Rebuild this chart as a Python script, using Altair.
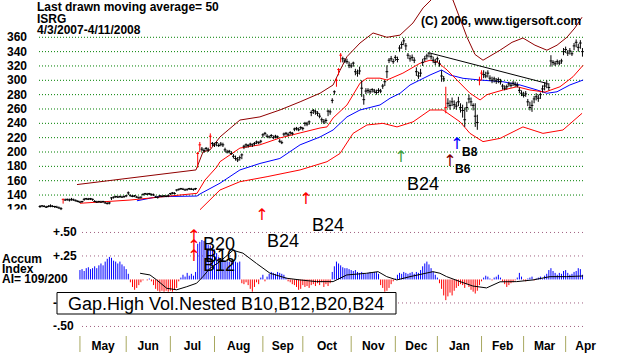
import altair as alt
import pandas as pd

# ---------------- data ----------------
# daily bars, trading-day index 0 = 4/3/2007 ... 258 = 4/11/2008
hi = [126,126,126,125,126,127,126,125,125,124,123,
      135,135,135,135,136,135,134,133,132,132,
      136,136,136,136,135,133,132,132,132,132,
      131,130,130,137,138,139,139,139,139,139,
      140,145,141,140,140,139,138,138,142,143,
      143,143,142,142,139,138,140,140,140,140,
      141,143,144,144,148,149,150,150,149,149,
      150,150,149,150,200,214,207,205,207,206,
      226,214,213,214,212,214,213,206,203,203,
      201,197,195,193,195,198,210,212,211,213,
      212,214,216,215,217,226,228,225,223,225,
      223,224,223,218,216,227,228,227,229,228,
      234,235,234,236,235,242,242,244,258,260,
      259,257,254,248,246,247,259,259,275,286,
      303,317,338,333,331,330,326,324,326,316,
      315,319,300,280,289,289,288,289,288,287,
      289,288,295,300,321,331,334,330,335,333,
      349,354,359,352,338,335,336,332,318,312,
      316,330,334,337,339,337,333,330,333,328,
      314,306,291,275,272,276,272,270,277,268,
      266,262,270,280,276,268,268,252,305,314,
      314,312,314,307,305,305,303,304,302,295,
      293,294,298,297,299,298,297,290,286,284,
      285,274,270,272,278,282,280,283,293,297,
      300,296,335,328,327,329,328,330,345,347,
      342,345,341,352,357,351,356,345]
lo = [122,123,123,122,123,123,123,122,122,121,119,
      128,132,132,131,132,132,131,130,129,129,
      132,133,133,133,132,130,129,129,129,129,
      128,127,127,133,135,136,136,136,136,136,
      137,140,138,137,137,136,135,135,139,140,
      140,140,139,139,136,135,137,137,137,137,
      137,140,141,141,145,146,147,147,146,146,
      147,147,146,147,178,200,201,199,202,200,
      205,208,207,208,207,208,207,200,198,198,
      196,191,188,186,188,190,204,206,206,208,
      207,209,211,211,212,220,223,220,219,220,
      218,219,219,213,211,222,223,222,224,223,
      229,230,229,231,230,236,236,238,250,253,
      252,250,247,241,239,240,250,252,268,280,
      291,307,325,325,324,323,317,317,319,307,
      305,308,277,266,281,282,281,283,282,280,
      282,282,288,292,303,324,326,323,327,325,
      340,344,349,342,330,326,327,324,306,302,
      305,320,326,329,332,329,324,321,325,319,
      298,298,254,262,259,264,260,259,264,255,
      248,235,256,268,264,258,235,231,293,300,
      303,303,304,299,296,297,295,296,294,287,
      286,287,291,290,292,291,290,282,278,276,
      277,264,258,256,268,272,270,274,283,286,
      289,286,319,321,320,322,321,323,335,338,
      334,336,334,342,346,340,344,333]
cl = [124,125,124,123,124,125,124,124,123,122,121,
      134,133,134,133,134,133,132,131,130,131,
      134,135,134,135,134,131,130,131,130,131,
      129,128,129,136,137,138,137,138,137,138,
      139,143,139,138,139,137,136,137,141,142,
      141,142,141,140,137,137,139,138,139,138,
      139,142,143,142,147,148,149,148,147,148,
      149,148,148,149,198,210,204,202,205,203,
      222,212,210,213,209,211,210,203,200,201,
      198,194,191,189,192,196,208,210,209,211,
      210,212,214,213,215,224,226,222,221,223,
      220,222,221,215,213,225,226,224,227,226,
      232,233,231,234,233,240,239,242,255,258,
      256,254,250,245,242,244,257,256,272,284,
      300,315,335,330,327,326,321,320,324,312,
      310,313,289,273,285,286,284,287,285,283,
      286,285,292,298,312,328,330,326,332,329,
      345,350,355,348,335,330,332,328,312,306,
      310,325,330,334,338,333,328,325,330,323,
      306,302,262,268,265,270,266,264,270,262,
      258,245,262,274,270,265,250,241,300,310,
      308,306,310,303,300,302,299,301,298,292,
      289,291,295,293,296,294,293,286,282,279,
      281,270,262,265,274,277,275,280,288,292,
      295,290,327,325,323,326,324,327,340,343,
      338,341,337,348,353,346,352,340]
gap_days = [11, 75, 76, 81, 141, 142, 143, 193, 209, 210]

# accumulation index, daily from index 19
ai_start = 19
ai = [0.10,0.11,0.09,0.12,0.13,0.11,0.12,0.14,0.12,0.15,
      0.17,0.15,0.19,0.22,0.24,0.23,0.20,0.19,0.17,
      0.19,0.16,0.14,0.11,0.06,
      -0.03,-0.08,-0.11,-0.09,-0.06,-0.03,-0.01,
      0.00,-0.01,0.01,-0.02,
      -0.06,-0.10,-0.12,-0.13,-0.12,-0.13,-0.12,-0.13,-0.12,-0.13,-0.11,-0.09,
      -0.02,0.02,0.05,0.03,0.07,0.04,0.06,0.04,0.08,
      0.38,0.40,0.42,0.41,0.39,0.37,0.36,0.34,0.32,0.28,0.24,0.22,0.21,0.20,0.19,0.19,0.20,0.19,0.19,0.18,0.19,
      -0.04,-0.05,-0.03,-0.06,-0.10,-0.13,-0.08,-0.03,-0.05,0.02,0.05,-0.02,0.03,0.06,
      0.08,0.07,0.06,0.08,0.07,0.06,0.05,0.02,
      -0.02,-0.03,-0.05,-0.06,-0.08,-0.11,-0.10,-0.06,-0.08,-0.07,-0.09,-0.06,-0.05,-0.07,-0.04,
      -0.06,-0.03,-0.08,-0.05,-0.07,-0.04,
      0.08,0.14,0.19,0.17,0.15,0.13,0.12,0.12,0.11,0.10,0.09,
      0.10,0.08,0.07,0.08,0.07,0.06,0.07,0.08,0.07,0.08,0.08,0.06,
      -0.06,-0.09,-0.13,-0.12,-0.09,-0.05,-0.02,0.01,
      0.05,0.07,0.06,0.08,0.07,0.06,0.07,0.08,0.06,0.08,0.07,
      0.10,0.14,0.17,0.19,0.16,0.12,
      0.08,0.05,0.02,
      -0.04,-0.10,-0.17,-0.22,-0.18,-0.14,-0.17,-0.12,-0.09,-0.07,
      -0.05,-0.06,-0.09,-0.05,-0.08,-0.11,-0.13,-0.15,
      -0.12,-0.06,-0.02,
      0.02,0.04,0.03,0.01,-0.01,0.02,
      0.03,0.05,0.02,-0.02,
      -0.05,-0.08,-0.06,-0.04,-0.03,-0.01,
      0.02,0.07,0.03,-0.01,-0.02,0.01,
      0.02,0.03,-0.01,0.01,0.02,0.03,0.01,0.04,
      0.06,0.10,0.12,0.09,0.07,0.05,
      0.07,0.06,0.09,0.10,0.07,0.05,0.06,0.08,0.09,0.12,0.11,0.05]

ai_avg_i = [47.6,52.3,55.5,60.3,65,69.8,74.5,77.5,80.9,85.6,91.8,96.5,103,109.4,117.3,123.7,
            131.6,139.4,145.9,155.4,160.8,164.9,169.7,176,186.9,190.2,193.4,199.8,205.9,212.4,
            218.8,226.7,234.5,242.6,250.5,258.3]
ai_avg_v = [0.066,0.048,-0.005,-0.094,-0.11,-0.077,-0.04,0.03,0.12,0.19,0.31,0.28,0.17,0.066,0.013,-0.005,
            -0.023,-0.023,0.048,0.066,0.083,0.03,-0.005,0.03,0.083,0.066,0.03,-0.023,-0.07,-0.09,
            -0.025,-0.023,-0.005,0.03,0.03,0.037]

# upper outer band (maroon)
band_hi_i = [17.6,74.2,77.5,80.9,85.6,95.1,104.6,114.1,123.7,133.2,139.4,142.7,146,152.2,158.4,165,
             171.2,177.4,182.2,187,191.5,196.4,203.1,206.9,210.7,218.8,224.5,229.7,235.4,241.1,245.9,
             250.6,254.4,257.8]
band_hi_v = [154.6,175,200,203,221,244.6,249,258.6,270,282,293.5,314,333,352,366,360,
             363,380,401,415,425,412,360,336,328,342,353,359,349,342,349,
             360,373,388]
# red line riding the price
red_up_i = [19,42.8,74.7,78.5,84.2,85.6,95.1,104.6,114.1,123.7,133.2,136.5,139.4,146,152.2,155.5,
            161.7,165,172.6,180.7,185.5,188.8,193.6,198.3,204.5,209.3,212.6,220.2,226.9,233,240.2,
            247.3,253.5,258.3]
red_up_v = [128.5,133,142.4,161,179.5,186.5,205.5,210,219.6,226.6,233.5,235,247.5,265.6,296,303,
            303,300.4,310,323.7,328,326,314.4,300.4,282,272.6,280,286.5,291,286.5,283.6,
            291,305,321]
# lower red band
red_lo_i = [76.1,85.6,95.1,108,123.7,136.5,142.7,148.9,155.5,163.1,169.8,177.4,185.5,191.7,199.8,
            204.5,210.7,218.8,229.7,239.2,248.7,257.8]
red_lo_v = [119.5,147,158.6,165.6,175,186.5,198,226,237.7,240,235,242,258.6,258.6,242,
            226,214.5,219,235,226,230.7,254]
# 50-day moving average (blue)
ma50_i = [46.1,56.1,74.7,76.1,85.6,95.1,104.6,114.1,123.7,133.2,139.4,146,152.2,161.7,166.5,171.2,
          176,180.7,185.5,191,195,201.2,209.3,220.2,228.3,236.4,241.1,245.9,252,258.3]
ma50_v = [132,137.7,138.6,141.5,156.5,175,184,191,210,221,230.7,249,258.6,265.6,275,281.8,
          293.5,300.4,307.4,314.4,307.4,302.8,300.4,298,293.5,286.5,281.9,284,293.5,300.4]
trend_i = [185.5, 240.7]
trend_v = [338, 296]

price_ticks = [120, 140, 160, 180, 200, 220, 240, 260, 280, 300, 320, 340, 360]
ai_ticks = [0.50, 0.25, -0.25, -0.50]
ai_tick_labels = ["+.50", "+.25", "-.25", "-.50"]
months = ["May", "Jun", "Jul", "Aug", "Sep", "Oct", "Nov", "Dec", "Jan", "Feb", "Mar", "Apr"]
month_start = [19, 41, 62, 83, 106, 125, 148, 169, 189, 210, 230, 250]

# ---------------- build ----------------
FONT = "Liberation Sans"
XS = alt.Scale(domain=[-19.02, 275.85], nice=False, zero=False)
YP = alt.Scale(domain=[-81.7, 412.0], nice=False, zero=False)
YA = alt.Scale(domain=[-0.793, 2.973], nice=False, zero=False)

def X(f):
    return alt.X(f, scale=XS, axis=None)

def YPf(f):
    return alt.Y(f, scale=YP, axis=None)

def YAf(f):
    return alt.Y(f, scale=YA, axis=None)

ONE = pd.DataFrame({"a": [0]})

bars = pd.DataFrame({"i": list(range(len(cl))), "hi": hi, "lo": lo, "cl": cl})
bars["c"] = ["#ff0000" if k in gap_days else "#000000" for k in bars["i"]]
aidf = pd.DataFrame({"i": list(range(ai_start, ai_start + len(ai))), "ai": ai})

layers = []

# price grid
layers.append(alt.Chart(pd.DataFrame({"v": price_ticks[1:]})).mark_rule(
    color="#008000", strokeDash=[1, 2], strokeWidth=1).encode(
    x=alt.value(39), x2=alt.value(583), y=YPf("v:Q")))
# accum grid
layers.append(alt.Chart(pd.DataFrame({"v": ai_ticks})).mark_rule(
    color="#a06080", strokeDash=[1, 3], strokeWidth=1).encode(
    x=alt.value(82), x2=alt.value(583), y=YAf("v:Q")))

def line(xs, vs, color, yfun=YPf):
    df = pd.DataFrame({"i": xs, "v": vs})
    return alt.Chart(df).mark_line(strokeWidth=1, color=color, clip=False).encode(
        x=X("i:Q"), y=yfun("v:Q"), order="i:Q")

layers.append(line(band_hi_i, band_hi_v, "#900000"))
layers.append(line(red_lo_i, red_lo_v, "#ff0000"))
layers.append(line(ma50_i, ma50_v, "#0000ff"))
layers.append(line(red_up_i, red_up_v, "#ff0000"))

# price bars
layers.append(alt.Chart(bars).mark_rule(strokeWidth=1).encode(
    x=X("i:Q"), y=YPf("lo:Q"), y2="hi:Q", color=alt.Color("c:N", scale=None)))
layers.append(alt.Chart(bars).transform_calculate(
    a="datum.i - 0.65", b="datum.i + 0.65").mark_rule(strokeWidth=1).encode(
    x=X("a:Q"), x2="b:Q", y=YPf("cl:Q"), color=alt.Color("c:N", scale=None)))

layers.append(line(trend_i, trend_v, "#000000"))

# accumulation histogram
layers.append(alt.Chart(aidf).mark_rule(strokeWidth=1).encode(
    x=X("i:Q"), y=YAf("ai:Q"), y2=alt.datum(0),
    color=alt.condition("datum.ai >= 0", alt.value("#0000ff"), alt.value("#ff0000"))))
layers.append(line(ai_avg_i, ai_avg_v, "#000000", YAf))

# price labels
layers.append(alt.Chart(pd.DataFrame({"v": price_ticks, "t": [str(p) for p in price_ticks]})).mark_text(
    align="right", baseline="middle", font=FONT, fontSize=12, fontWeight="bold", color="black").encode(
    x=alt.value(27), y=YPf("v:Q"), text="t:N"))
# cover the lower half of the "120" label
layers.append(alt.Chart(ONE).mark_rect(fill="white").encode(
    x=alt.value(0), x2=alt.value(38), y=alt.value(209.5), y2=alt.value(228)))
# accum labels
layers.append(alt.Chart(pd.DataFrame({"v": ai_ticks, "t": ai_tick_labels})).mark_text(
    align="left", baseline="middle", font=FONT, fontSize=12, fontWeight="bold", color="black").encode(
    x=alt.value(53), y=YAf("v:Q"), text="t:N"))

# month separators and labels
mdf = pd.DataFrame({"m": months, "s": month_start,
                    "c": [(month_start[k] + (month_start[k + 1] if k + 1 < len(month_start) else 269)) / 2
                          for k in range(len(month_start))]})
layers.append(alt.Chart(mdf).mark_rule(color="#a8a860", strokeWidth=1).encode(
    x=X("s:Q"), y=alt.value(336), y2=alt.value(352)))
layers.append(alt.Chart(mdf).mark_text(
    align="center", baseline="alphabetic", font=FONT, fontSize=12, fontWeight="bold", color="black").encode(
    x=X("c:Q"), y=alt.value(350), text="m:N"))

def label(txt, px, py, size=12, weight="bold", align="left", color="black", font=FONT, baseline="alphabetic"):
    return alt.Chart(ONE).mark_text(text=txt, align=align, baseline=baseline, fontSize=size,
                                    fontWeight=weight, font=font, color=color).encode(
        x=alt.value(px), y=alt.value(py))

layers += [
    label("Last drawn moving average= 50", 37, 11),
    label("ISRG", 37, 23),
    label("4/3/2007-4/11/2008", 37, 34),
    label("(C) 2006, www.tigersoft.com", 421, 25),
    label("Accum", 2, 263),
    label("Index", 2, 273),
    label("AI= 109/200", 2, 283),
]

# signals
ARW = "DejaVu Sans"
layers += [
    label("\u2191", 262, 215, size=16, weight="normal", align="center", color="#ff0000", font=ARW, baseline="middle"),
    label("\u2191", 306, 199, size=16, weight="normal", align="center", color="#ff0000", font=ARW, baseline="middle"),
    label("\u2191", 401, 157, size=16, weight="normal", align="center", color="#40a040", font=ARW, baseline="middle"),
    label("\u2191", 457, 144, size=16, weight="normal", align="center", color="#0000ff", font=ARW, baseline="middle"),
    label("\u2191", 450, 161, size=16, weight="normal", align="center", color="#800000", font=ARW, baseline="middle"),
    label("\u2191", 194, 236, size=16, weight="normal", align="center", color="#ff0000", font=ARW, baseline="middle"),
    label("\u2191", 194, 246, size=16, weight="normal", align="center", color="#ff0000", font=ARW, baseline="middle"),
    label("\u2191", 194, 256, size=16, weight="normal", align="center", color="#ff0000", font=ARW, baseline="middle"),
    label("B8", 462, 156, size=12),
    label("B6", 455, 173, size=12),
    label("B24", 407, 190, size=18, weight="normal"),
    label("B24", 312, 231, size=18, weight="normal"),
    label("B24", 267, 247, size=18, weight="normal"),
    label("B20", 203, 250, size=18, weight="normal"),
    label("B10", 205, 262, size=18, weight="normal"),
    label("B12", 203, 271, size=18, weight="normal"),
]

# nested-signal box
layers.append(alt.Chart(ONE).mark_rect(fill="white", stroke="black", strokeWidth=1).encode(
    x=alt.value(57), x2=alt.value(396), y=alt.value(292.5), y2=alt.value(314)))
layers.append(label("Gap.High Vol.Nested B10,B12,B20,B24", 68, 310, size=18, weight="normal"))

chart = alt.layer(*layers).resolve_scale(y="independent").properties(
    width=620, height=354, padding=0, autosize=alt.AutoSizeParams(type="none"),
    background="white").configure_view(stroke=None)

chart.save("out.html", embed_options={"renderer": "svg", "actions": False})
